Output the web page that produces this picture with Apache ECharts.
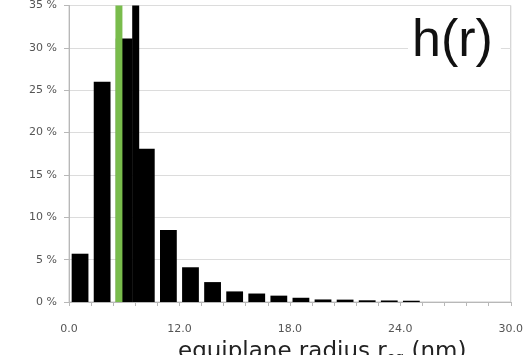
<!DOCTYPE html>
<html>
<head>
<meta charset="utf-8">
<script src="https://cdn.jsdelivr.net/npm/echarts@6/dist/echarts.min.js"></script>
<style>
  html, body { margin: 0; padding: 0; background: #fff; }
  #chart { width: 526px; height: 355px; }
</style>
</head>
<body>
<div id="chart"></div>
<script>
// Histogram of equiplane radius: share of events per bin (%)
const binIndex = ['0','1','2','3','4','5','6','7','8','9','10','11','12','13','14','15','16','17','18','19'];
const binShare = [5.7, 26.0, 31.1, 18.1, 8.5, 4.1, 2.35, 1.25, 1.0, 0.75, 0.5, 0.3, 0.28, 0.2, 0.18, 0.15, 0, 0, 0, 0];

// Axis tick labels, one every five bins
const xTickLabels = ['0.0', '12.0', '18.0', '24.0', '30.0'];
const yTicks = [0, 5, 10, 15, 20, 25, 30, 35];

// Vertical reference lines, in bin units along the axis
const medianLineX = 2.26;
const meanLineX = 3.02;

const chart = echarts.init(document.getElementById('chart'), null, { renderer: 'canvas' });

const labelFont = 'DejaVu Sans';

chart.setOption({
  animation: false,
  backgroundColor: '#ffffff',
  grid: {
    left: 69, right: 10, top: 5, bottom: 53,
    show: true, borderColor: '#c8c8c8', borderWidth: 1
  },
  xAxis: [
    {
      type: 'category',
      data: binIndex,
      boundaryGap: true,
      axisLine: { lineStyle: { color: '#b8b8b8', width: 1 } },
      axisTick: { show: true, length: 4, lineStyle: { color: '#b8b8b8' } },
      axisLabel: { show: false },
      splitLine: { show: false }
    },
    {
      type: 'value',
      min: 0, max: 20, interval: 5,
      position: 'bottom',
      offset: 0,
      axisLine: { show: false },
      axisTick: { show: false },
      splitLine: { show: false },
      axisLabel: {
        margin: 22,
        fontFamily: labelFont, fontSize: 11, color: '#555',
        formatter: v => xTickLabels[Math.round(v / 5)]
      }
    }
  ],
  yAxis: {
    type: 'value',
    min: yTicks[0], max: yTicks[yTicks.length - 1], interval: 5,
    axisLine: { show: true, lineStyle: { color: '#b8b8b8' } },
    axisTick: { show: true, length: 5, lineStyle: { color: '#b8b8b8' } },
    splitLine: { lineStyle: { color: '#dcdcdc', width: 1 } },
    axisLabel: {
      margin: 12,
      fontFamily: labelFont, fontSize: 11, color: '#555',
      formatter: '{value} %'
    }
  },
  series: [
    {
      type: 'bar',
      data: binShare,
      xAxisIndex: 0,
      barCategoryGap: '24%',
      itemStyle: { color: '#000000' },
      z: 2
    },
    {
      type: 'line',
      xAxisIndex: 1,
      data: [[medianLineX, yTicks[0]], [medianLineX, yTicks[yTicks.length - 1]]],
      symbol: 'none',
      lineStyle: { color: '#79bc4c', width: 7, cap: 'butt' },
      z: 3
    },
    {
      type: 'line',
      xAxisIndex: 1,
      data: [[meanLineX, yTicks[0]], [meanLineX, yTicks[yTicks.length - 1]]],
      symbol: 'none',
      lineStyle: { color: '#000000', width: 7, cap: 'butt' },
      z: 3
    }
  ],
  graphic: [
    {
      type: 'text',
      left: 408, top: 14,
      z: 1,
      style: {
        text: 'h(r)',
        fontFamily: 'Liberation Sans', fontSize: 52,
        fill: '#111',
        backgroundColor: '#ffffff',
        padding: [2, 8, 6, 4]
      }
    },
    {
      type: 'text',
      left: 178, top: 341,
      z: 10,
      style: {
        text: '{a|equiplane radius r}{b|eq}{a| (nm)}',
        rich: {
          a: { fontFamily: labelFont, fontSize: 23, fill: '#222' },
          b: { fontFamily: labelFont, fontSize: 14, fill: '#222', padding: [11, 0, 0, 0] }
        }
      }
    }
  ]
});
</script>
</body>
</html>
